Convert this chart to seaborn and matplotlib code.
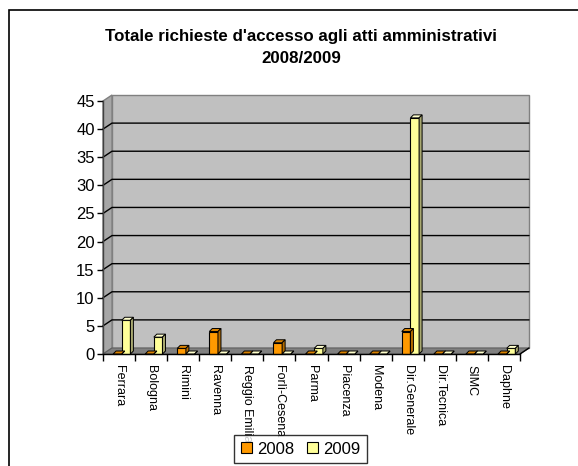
import numpy as np
import pandas as pd
import matplotlib
matplotlib.use("Agg")
import matplotlib.pyplot as plt
import matplotlib.transforms as mtransforms
from matplotlib.patches import Polygon, Rectangle, Patch
import seaborn as sns

categories = ["Ferrara", "Bologna", "Rimini", "Ravenna", "Reggio Emilia", "Forlì-Cesena",
              "Parma", "Piacenza", "Modena", "Dir.Generale", "Dir.Tecnica", "SIMC", "Daphne"]
values_2008 = [0, 0, 1, 4, 0, 2, 0, 0, 0, 4, 0, 0, 0]
values_2009 = [6, 3, 0, 0, 0, 0, 1, 0, 0, 42, 0, 0, 1]
series = ["2008", "2009"]
yticks = [0, 5, 10, 15, 20, 25, 30, 35, 40, 45]
title = "Totale richieste d'accesso agli atti amministrativi\n2008/2009"

df = pd.DataFrame({
    "Sede": categories * 2,
    "Anno": [series[0]] * len(categories) + [series[1]] * len(categories),
    "Richieste": values_2008 + values_2009,
})

sns.set_theme(style="white")
plt.rcParams["font.family"] = ["Liberation Sans", "DejaVu Sans"]
plt.rcParams["text.color"] = "black"
plt.rcParams["xtick.color"] = "black"
plt.rcParams["ytick.color"] = "black"

W, H = 578, 466
fig = plt.figure(figsize=(W / 100, H / 100), dpi=100)
fig.patch.set_facecolor("white")

# outer frame (top and left edges visible)
fig.patches.append(Rectangle((9 / W, -0.2), 1.5, 1 - 10 / H + 0.2, transform=fig.transFigure,
                             fill=False, edgecolor="black", linewidth=1.2, zorder=0))

x0, x1, yb, yt = 103, 520, 354, 101
ax = fig.add_axes([x0 / W, 1 - yb / H, (x1 - x0) / W, (yb - yt) / H])
ax.set_xlim(-0.5, len(categories) - 0.5)
ax.set_ylim(0, 45)
ax.set_facecolor("none")

DX, DY = 9, 6  # wall depth in pixels
ident = mtransforms.IdentityTransform()


def D(x, y):
    return ax.transData.transform((x, y))


xl, xr = -0.5, len(categories) - 0.5
off = np.array([DX, DY])


def add_poly(verts, fc, ec, lw, z):
    p = Polygon(verts, closed=True, transform=ident, facecolor=fc, edgecolor=ec,
                linewidth=lw, zorder=z)
    ax.add_artist(p)
    p.set_clip_on(False)
    return p


# back wall, left wall, floor
add_poly([D(xl, 0) + off, D(xr, 0) + off, D(xr, 45) + off, D(xl, 45) + off],
         "#C0C0C0", "#808080", 1, 0.1)
add_poly([D(xl, 0), D(xl, 45), D(xl, 45) + off, D(xl, 0) + off],
         "#A6A6A6", "#808080", 1, 0.1)
add_poly([D(xl, 0), D(xr, 0), D(xr, 0) + off, D(xl, 0) + off],
         "#808080", "#606060", 0.8, 0.15)

# gridlines on the walls
for v in yticks[1:-1]:
    p0 = D(xl, v)
    p1 = p0 + off
    p2 = D(xr, v) + off
    ln = plt.Line2D([p0[0], p1[0], p2[0]], [p0[1], p1[1], p2[1]],
                    transform=ident, color="black", linewidth=1, zorder=0.2)
    ax.add_artist(ln)
    ln.set_clip_on(False)

palette = {"2008": "#FF9900", "2009": "#FFFF99"}
side_col = {"2008": "#B36B00", "2009": "#A8A870"}
top_col = {"2008": "#D98200", "2009": "#FFFFCC"}

sns.barplot(data=df, x="Sede", y="Richieste", hue="Anno", palette=palette,
            width=0.54, edgecolor="black", linewidth=0.8, saturation=1,
            legend=False, ax=ax, zorder=3)

BX, BY = 2.7, 0.0   # shift of bar front
BDX, BDY = 3, 3     # bar depth
shift = mtransforms.offset_copy(ax.transData, fig=fig, x=BX, y=BY, units="dots")
bshift = np.array([BX, BY])
bdep = np.array([BDX, BDY])
for cont, s in zip(ax.containers, series):
    for rect in cont:
        rect.set_transform(shift)
        rect.set_clip_on(False)
        rect.set_zorder(3)
        x = rect.get_x()
        w = rect.get_width()
        h = rect.get_height()
        fl = D(x, h) + bshift
        fr = D(x + w, h) + bshift
        br = D(x + w, 0) + bshift
        add_poly([fl, fr, fr + bdep, fl + bdep], top_col[s], "black", 0.7, 3)
        add_poly([br, fr, fr + bdep, br + bdep], side_col[s], "black", 0.7, 3)

# axes lines
for sp in ["top", "right"]:
    ax.spines[sp].set_visible(False)
ax.spines["left"].set_color("#404040")
ax.spines["bottom"].set_color("black")
ax.spines["left"].set_linewidth(1)
ax.spines["bottom"].set_linewidth(1)
ax.spines["left"].set_zorder(4)
ax.spines["bottom"].set_zorder(4)
pr = D(xr, 0)
ln = plt.Line2D([pr[0], pr[0] + DX], [pr[1], pr[1] + DY], transform=ident,
                color="black", linewidth=1, zorder=4)
ax.add_artist(ln)
ln.set_clip_on(False)

ax.set_yticks(yticks)
ax.set_yticklabels([str(v) for v in yticks], fontsize=12)
ax.tick_params(axis="y", direction="out", length=4, width=1, color="black", pad=2, left=True)
ax.set_xticks(range(len(categories)))
ax.set_xticklabels(categories, rotation=270, fontsize=9, va="top", ha="center")
ax.tick_params(axis="x", which="major", length=0, pad=8)
ax.set_xticks(np.arange(-0.5, len(categories), 1.0), minor=True)
ax.tick_params(axis="x", which="minor", direction="out", length=5, width=1, color="black", bottom=True)
ax.set_xlabel("")
ax.set_ylabel("")
ax.grid(False)

fig.text(301 / W, 1 - 47.5 / H, title, ha="center", va="center", fontsize=12.2,
         fontweight="bold", linespacing=1.55, color="black")

handles = [Patch(facecolor=palette[s], edgecolor="black", linewidth=0.8) for s in series]
leg = fig.legend(handles, series, loc="upper center", bbox_to_anchor=(300.5 / W, 1 - 435 / H),
                 ncol=2, frameon=True, fancybox=False, fontsize=12, handlelength=0.65,
                 handleheight=0.65, handletextpad=0.3, columnspacing=0.8, borderpad=0.4,
                 borderaxespad=0)
leg.get_frame().set_edgecolor("black")
leg.get_frame().set_linewidth(1)

fig.savefig("out.png", dpi=100)
